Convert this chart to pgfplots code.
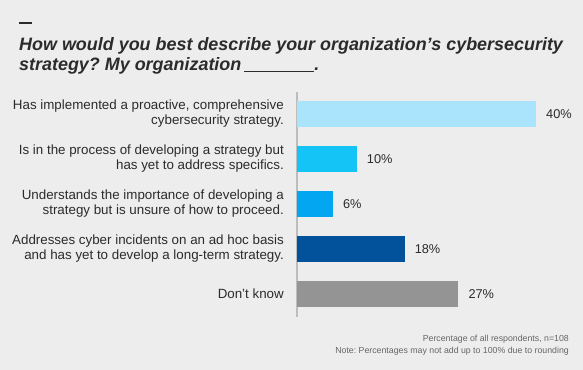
\documentclass[border=0pt]{standalone}
\usepackage{fontspec}
\setmainfont{Liberation Sans}
\usepackage{pgfplots}
\pgfplotsset{compat=1.18}
\definecolor{bg}{HTML}{EDEDED}
\definecolor{txt}{HTML}{2B2B2B}
\definecolor{cA}{HTML}{A9E4FC}
\definecolor{cB}{HTML}{15C4F6}
\definecolor{cC}{HTML}{03A6F0}
\definecolor{cD}{HTML}{01529B}
\definecolor{cE}{HTML}{949494}
\definecolor{axisgray}{HTML}{BDBDBD}
\definecolor{notegray}{HTML}{666666}
\frenchspacing
\begin{document}
\begin{tikzpicture}
\useasboundingbox (0,0) rectangle (583bp,-370bp);
\fill[bg] (0,0) rectangle (583bp,-370bp);
\fill[txt] (19bp,-21.5bp) rectangle (32bp,-24bp);
\node[anchor=base west, inner sep=0pt, text=txt, font=\fontsize{18}{20}\selectfont\bfseries\itshape] at (19bp,-50.5bp) {How would you best describe your organization’s cybersecurity};
\node[anchor=base west, inner sep=0pt, text=txt, font=\fontsize{18}{20}\selectfont\bfseries\itshape] at (19bp,-70.5bp) {strategy? My organization\hspace{3bp}\rule[-1.5bp]{70bp}{1.4bp}.};
\begin{axis}[
  at={(297bp,-91.5bp)}, anchor=north west,
  x=5.975bp, y=45bp, y dir=reverse,
  xmin=0, xmax=45, ymin=-0.5, ymax=4.5,
  axis x line=none, axis y line*=left,
  axis line style={draw=axisgray, line width=2bp, -},
  xbar, bar width=26bp, bar shift=0pt,
  ytick={0,1,2,3,4},
  major tick length=0pt,
  yticklabels={{Has implemented a proactive, comprehensive\\cybersecurity strategy.},
               {Is in the process of developing a strategy but\\has yet to address specifics.},
               {Understands the importance of developing a\\strategy but is unsure of how to proceed.},
               {Addresses cyber incidents on an ad hoc basis\\and has yet to develop a long-term strategy.},
               {Don{\char"0027}t know}},
  yticklabel style={align=right, inner sep=0pt, text=txt, font=\fontsize{13.4}{15}\selectfont},
  yticklabel shift=13bp,
  point meta=x,
  nodes near coords={\pgfmathprintnumber{\pgfplotspointmeta}\%},
  every node near coord/.append style={anchor=west, inner sep=0pt, xshift=10bp, text=txt, font=\fontsize{12.8}{15}\selectfont, /pgf/number format/assume math mode=true},
  clip=false,
]
\addplot[fill=cA, draw=none] coordinates {(40,0)};
\addplot[fill=cB, draw=none] coordinates {(10,1)};
\addplot[fill=cC, draw=none] coordinates {(6,2)};
\addplot[fill=cD, draw=none] coordinates {(18,3)};
\addplot[fill=cE, draw=none] coordinates {(27,4)};
\end{axis}
\node[anchor=base east, inner sep=0pt, text=notegray, font=\fontsize{8.8}{10}\selectfont] at (569bp,-341.5bp) {Percentage of all respondents, n=108};
\node[anchor=base east, inner sep=0pt, text=notegray, font=\fontsize{8.8}{10}\selectfont] at (569bp,-353.5bp) {Note: Percentages may not add up to 100\% due to rounding};
\end{tikzpicture}
\end{document}
